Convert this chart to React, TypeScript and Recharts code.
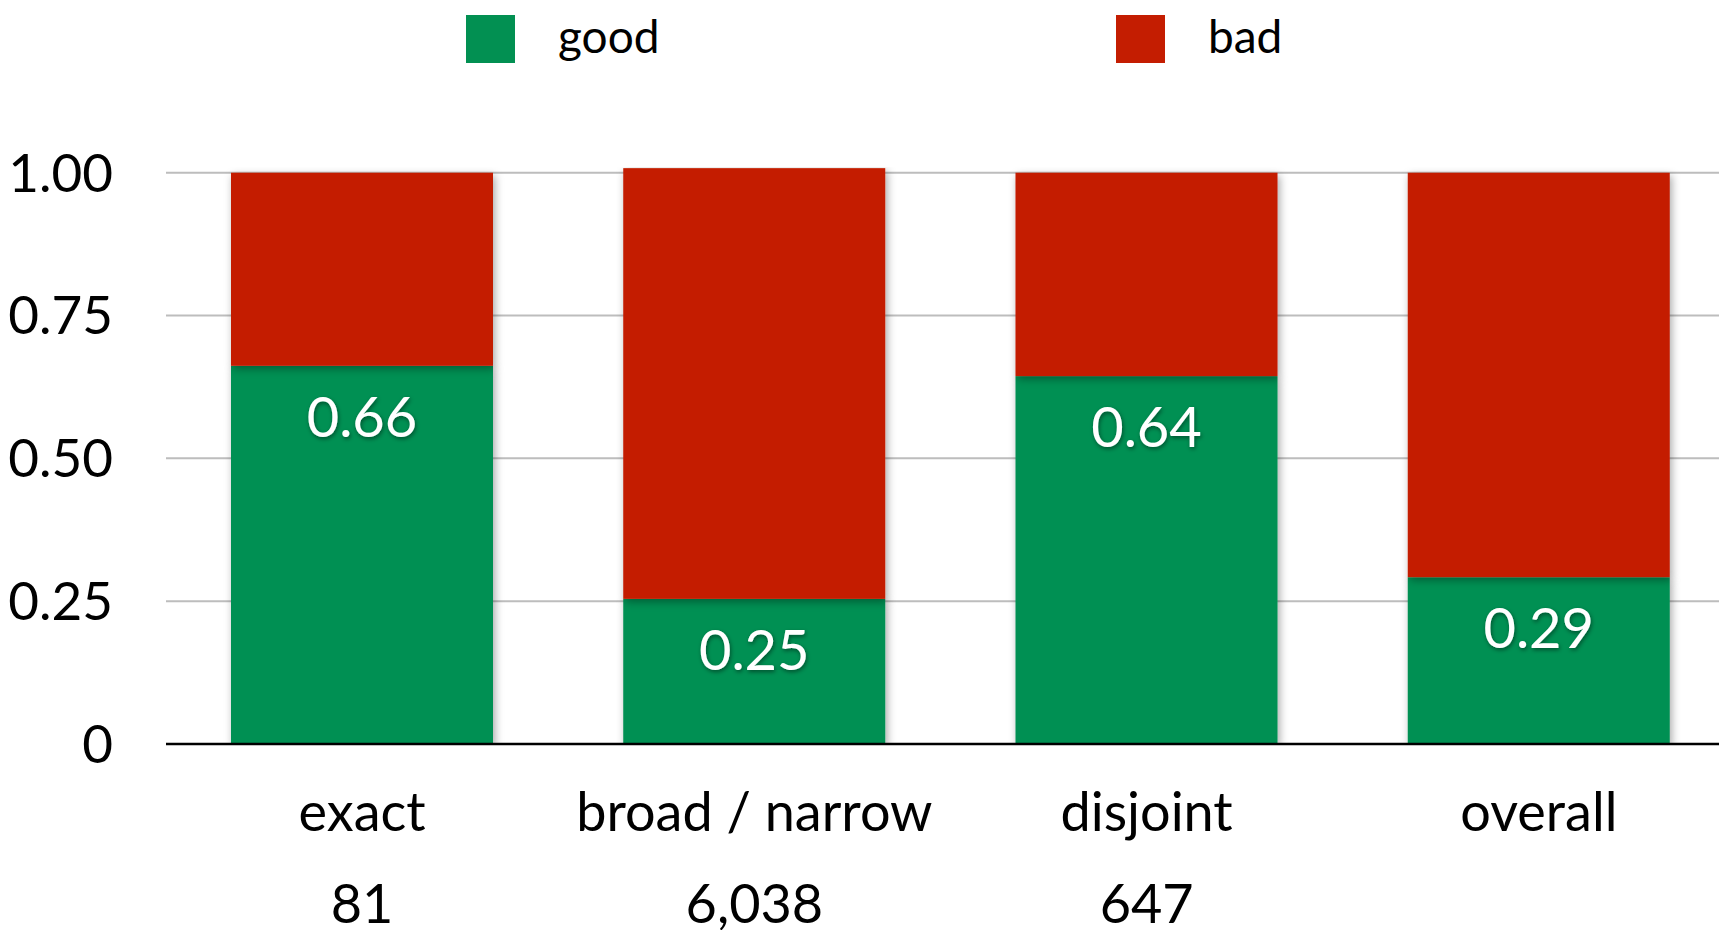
import React from 'react';
import {
  BarChart,
  Bar,
  XAxis,
  YAxis,
  CartesianGrid,
  Legend,
  LabelList,
} from 'recharts';

const CATEGORIES = ['exact', 'broad / narrow', 'disjoint', 'overall'];
const GOOD = [0.662, 0.254, 0.644, 0.292];
const BAD = [0.338, 0.754, 0.356, 0.708];
const COUNTS = ['81', '6,038', '647', ''];
const Y_TICKS = [0, 0.25, 0.5, 0.75, 1];
const SERIES = ['good', 'bad'];

const GREEN = '#029052';
const RED = '#C41D01';
const FONT = 'Lato, "Open Sans", sans-serif';
const LEGEND_X = [466, 1116];

const data = CATEGORIES.map((name, i) => ({
  name,
  good: GOOD[i],
  bad: BAD[i],
  count: COUNTS[i],
}));

const BarShape = (props: any) => {
  const { x, y, width, height, fill } = props;
  return (
    <rect
      x={x}
      y={y}
      width={width}
      height={height}
      fill={fill}
      filter="url(#barShadow)"
    />
  );
};

const XTick = (props: any) => {
  const { x, y, payload } = props;
  const idx = CATEGORIES.indexOf(payload.value);
  return (
    <g>
      <text x={x} y={y + 87} textAnchor="middle" fontSize={54} fontFamily={FONT} fill="#000">
        {payload.value}
      </text>
      <text x={x} y={y + 179} textAnchor="middle" fontSize={54} fontFamily={FONT} fill="#000">
        {COUNTS[idx]}
      </text>
    </g>
  );
};

const renderLegend = (props: any) => {
  const items = [...(props.payload || [])].sort(
    (a: any, b: any) => SERIES.indexOf(a.dataKey) - SERIES.indexOf(b.dataKey)
  );
  return (
    <svg width={1719} height={80} style={{ display: 'block' }}>
      {items.map((entry: any, i: number) => (
        <g key={entry.value}>
          <rect x={LEGEND_X[i]} y={15} width={49} height={48} fill={entry.color} />
          <text
            x={LEGEND_X[i] + 92}
            y={53}
            fontSize={46}
            fontFamily={FONT}
            fill="#000"
          >
            {entry.value}
          </text>
        </g>
      ))}
    </svg>
  );
};

const renderValue = (props: any) => {
  const { x, y, width, value } = props;
  return (
    <text
      x={x + width / 2}
      y={y + 71}
      textAnchor="middle"
      fontSize={56}
      fontFamily={FONT}
      fill="#fff"
      filter="url(#textShadow)"
    >
      {Number(value).toFixed(2)}
    </text>
  );
};

export default function App() {
  return (
    <div style={{ width: 1719, height: 930, overflow: 'hidden', background: '#fff' }}>
      <style>{`body{margin:0;overflow:hidden;}`}</style>
      <svg width={0} height={0} style={{ position: 'absolute' }}>
        <defs>
          <filter id="barShadow" x="-10%" y="-10%" width="125%" height="125%">
            <feDropShadow dx="2" dy="3" stdDeviation="4" floodColor="#000" floodOpacity="0.35" />
          </filter>
          <filter id="textShadow" x="-20%" y="-30%" width="140%" height="170%">
            <feDropShadow dx="1" dy="2" stdDeviation="2" floodColor="#000" floodOpacity="0.45" />
          </filter>
        </defs>
      </svg>
      <BarChart
        width={1719}
        height={930}
        data={data}
        margin={{ top: 167, right: -16, bottom: 0, left: 0 }}
      >
        <CartesianGrid
          vertical={false}
          stroke="#bdbdbd"
          strokeWidth={2}
          horizontalValues={Y_TICKS}
        />
        <XAxis
          dataKey="name"
          height={186}
          tickLine={false}
          axisLine={{ stroke: '#000', strokeWidth: 2.5 }}
          tickSize={0}
          tickMargin={0}
          tick={<XTick />}
          interval={0}
        />
        <YAxis
          width={166}
          domain={[0, 1.01]}
          ticks={Y_TICKS}
          tickLine={false}
          axisLine={false}
          tickSize={0}
          tickMargin={53}
          tickFormatter={(v: number) => (v === 0 ? '0' : v.toFixed(2))}
          tick={{ fontSize: 53, fontFamily: FONT, fill: '#000' }}
          allowDataOverflow
        />
        <Legend
          layout="horizontal"
          verticalAlign="middle"
          align="center"
          wrapperStyle={{ top: 0, left: 0, width: 1719 }}
          content={renderLegend}
        />
        <Bar
          dataKey="good"
          stackId="a"
          fill={GREEN}
          barSize={262}
          shape={<BarShape />}
          isAnimationActive={false}
        >
          <LabelList dataKey="good" content={renderValue} />
        </Bar>
        <Bar
          dataKey="bad"
          stackId="a"
          fill={RED}
          barSize={262}
          shape={<BarShape />}
          isAnimationActive={false}
        />
      </BarChart>
    </div>
  );
}
